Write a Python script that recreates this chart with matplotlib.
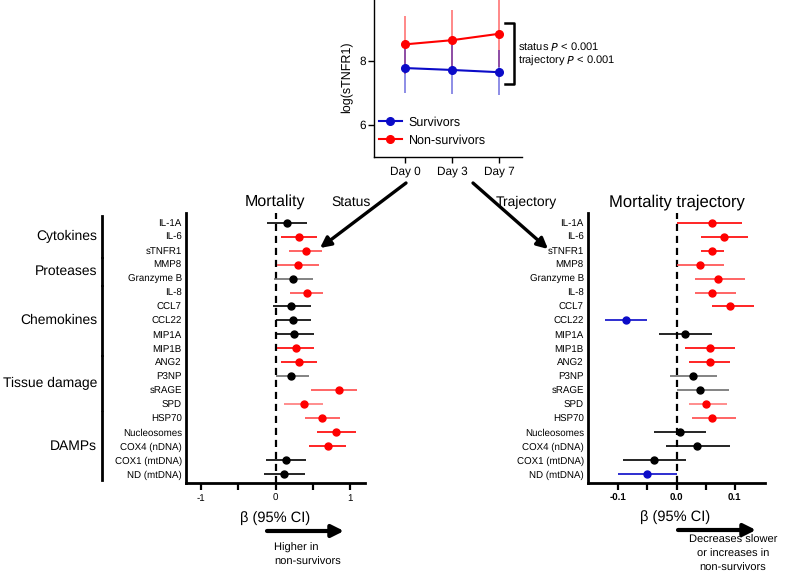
import matplotlib
matplotlib.use("Agg")
import matplotlib.pyplot as plt
import matplotlib.transforms as mtransforms
import numpy as np

plt.rcParams['font.family'] = ['Liberation Sans', 'DejaVu Sans']
plt.rcParams['text.hinting'] = 'no_hinting'

# ---------------- data ----------------
days = ["Day 0", "Day 3", "Day 7"]
surv_mean = [7.78, 7.72, 7.65]
surv_lo = [7.00, 6.97, 6.94]
surv_hi = [8.52, 8.50, 8.35]
nonsurv_mean = [8.52, 8.65, 8.85]
nonsurv_lo = [7.60, 7.70, 7.80]
nonsurv_hi = [9.42, 9.60, 10.10]

markers = ["IL-1A", "IL-6", "sTNFR1", "MMP8", "Granzyme B", "IL-8", "CCL7", "CCL22",
           "MIP1A", "MIP1B", "ANG2", "P3NP", "sRAGE", "SPD", "HSP70", "Nucleosomes",
           "COX4 (nDNA)", "COX1 (mtDNA)", "ND (mtDNA)"]

groups = ["Cytokines", "Proteases", "Chemokines", "Tissue damage", "DAMPs"]
group_start = [0, 3, 5, 10, 14]
group_end = [2, 4, 9, 13, 18]

mort_beta = [0.15, 0.31, 0.41, 0.30, 0.23, 0.42, 0.21, 0.23, 0.25, 0.27, 0.31, 0.21,
             0.85, 0.38, 0.63, 0.81, 0.70, 0.14, 0.12]
mort_lo = [-0.11, 0.07, 0.18, 0.02, -0.02, 0.19, -0.03, 0.00, 0.00, 0.02, 0.07, 0.00,
           0.48, 0.12, 0.40, 0.56, 0.45, -0.13, -0.15]
mort_hi = [0.42, 0.55, 0.63, 0.58, 0.50, 0.64, 0.47, 0.48, 0.52, 0.52, 0.56, 0.45,
           1.09, 0.64, 0.87, 1.08, 0.94, 0.41, 0.40]
mort_sig = ["ns", "up", "up2", "up2", "ns2", "up2", "ns", "ns", "ns", "up", "up", "ns2",
            "up2", "up3", "up2", "up", "up", "ns", "ns"]

traj_beta = [0.061, 0.081, 0.061, 0.041, 0.071, 0.061, 0.092, -0.087, 0.015, 0.058,
             0.058, 0.029, 0.040, 0.051, 0.061, 0.006, 0.036, -0.039, -0.051]
traj_lo = [0.000, 0.042, 0.042, 0.000, 0.031, 0.031, 0.061, -0.122, -0.030, 0.014,
           0.021, -0.011, 0.000, 0.021, 0.026, -0.038, -0.018, -0.092, -0.101]
traj_hi = [0.112, 0.123, 0.081, 0.081, 0.117, 0.102, 0.133, -0.051, 0.061, 0.100,
           0.092, 0.069, 0.090, 0.087, 0.102, 0.051, 0.092, 0.017, 0.000]
traj_sig = ["up", "up", "up", "up2", "up2", "up2", "up", "down", "ns", "up",
            "up", "ns2", "ns2", "up3", "up2", "ns", "ns", "ns", "down"]

# ---------------- styles ----------------
RED = "#ff0000"
BLUE = "#0b0bc8"
pt_col = {"ns": "black", "ns2": "black", "up": RED, "up2": RED, "up3": RED, "down": BLUE}
ci_col = {"ns": "black", "ns2": "#6e6e6e", "up": RED, "up2": "#ff4a4a", "up3": "#ff7a7a", "down": BLUE}

W, H = 785, 572
fig = plt.figure(figsize=(W / 100, H / 100), dpi=100)


def box(l, t, r, b):
    return [l / W, 1 - b / H, (r - l) / W, (b - t) / H]


# ---------------- top panel ----------------
ax0 = fig.add_axes(box(374, -3, 522, 157))
x = np.arange(len(days))
for mean, lo, hi, col in [(nonsurv_mean, nonsurv_lo, nonsurv_hi, RED),
                          (surv_mean, surv_lo, surv_hi, BLUE)]:
    ax0.vlines(x, lo, hi, color=col, lw=1.3, alpha=0.5, zorder=2)
for mean, col, lab in [(surv_mean, BLUE, "Survivors"), (nonsurv_mean, RED, "Non-survivors")]:
    ax0.plot(x, mean, color=col, lw=1.5, marker="o", ms=5.5, label=lab, zorder=3)
ax0.set_xlim(-0.66, 2.49)
ax0.set_ylim(5, 10)
ax0.set_yticks([6, 8])
ax0.set_xticks(x)
ax0.set_xticklabels(days)
ax0.tick_params(labelsize=8.5, width=1, length=4, pad=2)
ax0.spines["top"].set_visible(False)
ax0.spines["right"].set_visible(False)
for s in ["left", "bottom"]:
    ax0.spines[s].set_linewidth(1.0)
ax0.set_ylabel("log(sTNFR1)", fontsize=9, labelpad=4)
ax0.legend(loc="lower left", bbox_to_anchor=(-0.02, 0.02), frameon=False, fontsize=9,
           handlelength=1.9, handletextpad=0.5, labelspacing=0.45, borderaxespad=0.2)

# bracket
fig.add_artist(plt.Line2D([505 / W, 514 / W, 514 / W, 505 / W],
                          [1 - 23 / H, 1 - 23 / H, 1 - 84 / H, 1 - 84 / H],
                          color="black", lw=1.8, transform=fig.transFigure))
fig.text(518 / W, 1 - 47 / H, r"status $P$ < 0.001", fontsize=8, va="center", ha="left")
fig.text(518 / W, 1 - 61 / H, r"trajectory $P$ < 0.001", fontsize=8, va="center", ha="left")


# ---------------- forest plots ----------------
def forest(ax, beta, lo, hi, sig, xlim, ticks, minor):
    y = np.arange(len(markers))
    for i in range(len(markers)):
        ax.hlines(y[i], lo[i], hi[i], color=ci_col[sig[i]], lw=1.2, zorder=2)
        ax.plot(beta[i], y[i], "o", color=pt_col[sig[i]], ms=5, zorder=3)
    ax.axvline(0, color="black", lw=1.6, ls=(0, (3.2, 2.2)), zorder=1)
    ax.set_xlim(*xlim)
    ax.set_ylim(len(markers) - 0.35, -0.7)
    ax.set_yticks(y)
    ax.set_yticklabels(markers, fontsize=7)
    ax.tick_params(axis="y", length=0, pad=3)
    ax.set_xticks(ticks)
    ax.set_xticks(minor, minor=True)
    ax.tick_params(axis="x", which="both", length=5, width=1.6, labelsize=7, pad=3)
    ax.spines["top"].set_visible(False)
    ax.spines["right"].set_visible(False)
    for s in ["left", "bottom"]:
        ax.spines[s].set_linewidth(2.0)


ax1 = fig.add_axes(box(186, 213, 365, 483))
forest(ax1, mort_beta, mort_lo, mort_hi, mort_sig, (-1.2, 1.2), [-1, 0, 1], [-0.5, 0.5])
ax1.set_xticklabels(["-1", "0", "1"])

ax2 = fig.add_axes(box(588, 213, 765, 483))
forest(ax2, traj_beta, traj_lo, traj_hi, traj_sig, (-0.152, 0.152), [-0.1, 0.0, 0.1], [-0.05, 0.05])
ax2.set_xticklabels(["-0.1", "0.0", "0.1"], fontweight="bold")

# group bars and labels
trans = mtransforms.blended_transform_factory(fig.transFigure, ax1.transData)
for g, s, e in zip(groups, group_start, group_end):
    fig.add_artist(plt.Line2D([102 / W, 102 / W], [s - 0.45, e + 0.45], color="black", lw=2.0,
                              transform=trans, clip_on=False))
    fig.text(97 / W, (s + e) / 2, g, fontsize=10, ha="right", va="center", transform=trans)

# titles
fig.text(275 / W, 1 - 202 / H, "Mortality", fontsize=11.5, ha="center", va="center")
fig.text(351 / W, 1 - 202 / H, "Status", fontsize=10, ha="center", va="center")
fig.text(677 / W, 1 - 202 / H, "Mortality trajectory", fontsize=12, ha="center", va="center")
fig.text(526 / W, 1 - 202 / H, "Trajectory", fontsize=10, ha="center", va="center")

# arrows
arrow_kw = dict(arrowstyle="-|>", lw=2.4, color="black", mutation_scale=16, shrinkA=0, shrinkB=0)
fig.add_artist(matplotlib.patches.FancyArrowPatch((406 / W, 1 - 183 / H), (320 / W, 1 - 248 / H),
                                                  transform=fig.transFigure, **arrow_kw))
fig.add_artist(matplotlib.patches.FancyArrowPatch((473 / W, 1 - 183 / H), (548 / W, 1 - 249 / H),
                                                  transform=fig.transFigure, **arrow_kw))

# bottom labels
fig.text(275 / W, 1 - 518 / H, "β (95% CI)", fontsize=10.5, ha="center", va="center")
fig.text(675 / W, 1 - 517 / H, "β (95% CI)", fontsize=10.5, ha="center", va="center")
big_kw = dict(arrow_kw, lw=3, mutation_scale=18)
fig.add_artist(matplotlib.patches.FancyArrowPatch((267 / W, 1 - 531 / H), (344 / W, 1 - 531 / H),
                                                  transform=fig.transFigure, **big_kw))
fig.add_artist(matplotlib.patches.FancyArrowPatch((678 / W, 1 - 530 / H), (756 / W, 1 - 530 / H),
                                                  transform=fig.transFigure, **big_kw))
fig.text(274 / W, 1 - 555 / H, "Higher in\nnon-survivors", fontsize=8, ha="left", va="center",
         linespacing=1.45)
fig.text(733 / W, 1 - 554 / H, "Decreases slower\nor increases in\nnon-survivors", fontsize=8,
         ha="center", va="center", linespacing=1.45)

fig.savefig("out.png", dpi=100)
